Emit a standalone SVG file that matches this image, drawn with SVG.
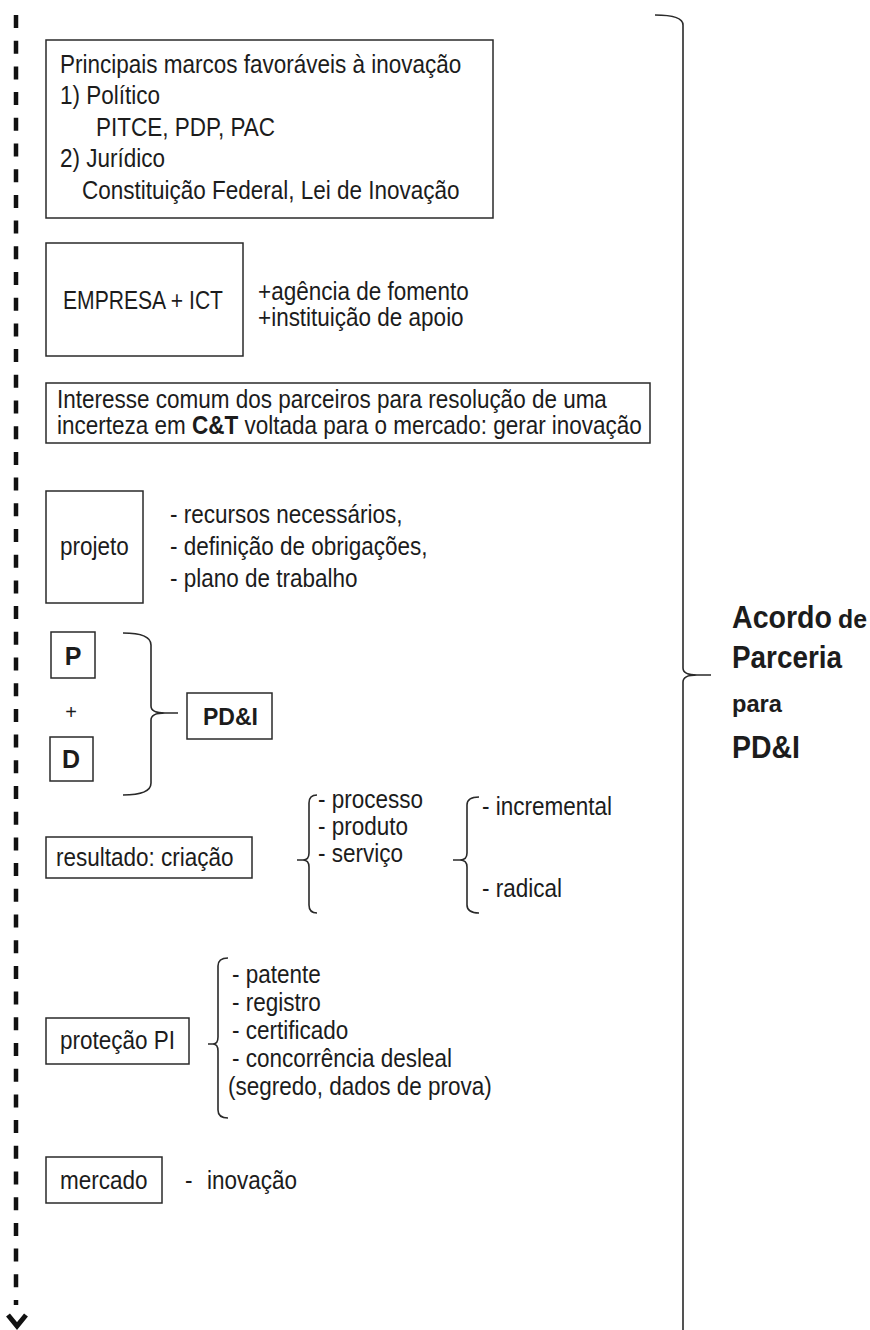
<svg xmlns="http://www.w3.org/2000/svg" width="870" height="1330" viewBox="0 0 870 1330">
<defs>
<style>
.t{font-family:"Liberation Sans",Arial,sans-serif;font-size:25px;fill:#1c1c1c}
.b{font-weight:bold}
.box{fill:none;stroke:#2a2a2a;stroke-width:1.5}
.br{fill:none;stroke:#2a2a2a;stroke-width:1.6}
</style>
</defs>
<rect width="870" height="1330" fill="#ffffff"/>

<g id="connectors">
  <line x1="16" y1="15" x2="16" y2="1305" stroke="#111" stroke-width="4.5" stroke-dasharray="13 12.7"/>
  <polyline points="8,1315 17,1326 26,1315" fill="none" stroke="#111" stroke-width="5"/>
  <path class="br" d="M655,15 Q683,15 683,25 V668 Q683,675 697,675 H711 M697,675 Q683,675 683,682 V1330"/>
  <path class="br" d="M123,633 Q151,633 151,645 V706 Q151,713 165,713 H178 M165,713 Q151,713 151,720 V783 Q151,795 123,795"/>
  <path class="br" d="M317,795 Q309,795 309,803 V853 Q309,860 303,860 H297 M303,860 Q309,860 309,867 V905 Q309,913 317,913"/>
  <path class="br" d="M479,797 Q467,797 467,805 V853 Q467,860 460,860 H453 M460,860 Q467,860 467,867 V905 Q467,913 479,913"/>
  <path class="br" d="M228,958 Q218,958 218,966 V1037 Q218,1044 213,1044 H208 M213,1044 Q218,1044 218,1051 V1110 Q218,1118 228,1118"/>
</g>

<g id="marcos">
  <rect class="box" x="46" y="40" width="447" height="178"/>
  <text class="t" transform="translate(60,73) scale(0.9,1)">Principais marcos favoráveis à inovação</text>
  <text class="t" transform="translate(60,104) scale(0.9,1)">1) Político</text>
  <text class="t" transform="translate(96,136) scale(0.9,1)">PITCE, PDP, PAC</text>
  <text class="t" transform="translate(60,167) scale(0.9,1)">2) Jurídico</text>
  <text class="t" transform="translate(82,199) scale(0.9,1)">Constituição Federal, Lei de Inovação</text>
</g>

<g id="empresa">
  <rect class="box" x="46" y="243" width="197" height="113"/>
  <text class="t" x="63" y="309" textLength="160" lengthAdjust="spacingAndGlyphs">EMPRESA + ICT</text>
  <text class="t" transform="translate(258,300) scale(0.9,1)">+agência de fomento</text>
  <text class="t" transform="translate(258,326) scale(0.9,1)">+instituição de apoio</text>
</g>

<g id="interesse">
  <rect class="box" x="46" y="383" width="604" height="60"/>
  <text class="t" transform="translate(57,408) scale(0.9,1)">Interesse comum dos parceiros para resolução de uma</text>
  <text class="t" transform="translate(57,434) scale(0.9,1)">incerteza em <tspan class="b">C&amp;T</tspan> voltada para o mercado: gerar inovação</text>
</g>

<g id="projeto">
  <rect class="box" x="46" y="491" width="97" height="112"/>
  <text class="t" transform="translate(60,555) scale(0.9,1)">projeto</text>
  <text class="t" transform="translate(170,523) scale(0.9,1)">- recursos necessários,</text>
  <text class="t" transform="translate(170,555) scale(0.9,1)">- definição de obrigações,</text>
  <text class="t" transform="translate(170,587) scale(0.9,1)">- plano de trabalho</text>
</g>

<g id="p">
  <rect class="box" x="51" y="632" width="44" height="46"/>
  <text class="t b" x="73" y="665" text-anchor="middle">P</text>
</g>
<g id="plus">
  <text class="t" x="71" y="719" text-anchor="middle" style="font-size:20px">+</text>
</g>
<g id="d">
  <rect class="box" x="50" y="737" width="43" height="44"/>
  <text class="t b" x="71" y="768" text-anchor="middle">D</text>
</g>
<g id="pdi">
  <rect class="box" x="187" y="693" width="85" height="46"/>
  <text class="t b" x="203" y="725" textLength="55" lengthAdjust="spacingAndGlyphs" style="font-size:23px">PD&amp;I</text>
</g>

<g id="resultado">
  <rect class="box" x="46" y="837" width="206" height="41"/>
  <text class="t" transform="translate(56,866) scale(0.9,1)">resultado: criação</text>
</g>
<g id="tipos">
  <text class="t" transform="translate(318,808) scale(0.9,1)">- processo</text>
  <text class="t" transform="translate(318,835) scale(0.9,1)">- produto</text>
  <text class="t" transform="translate(318,862) scale(0.9,1)">- serviço</text>
</g>
<g id="graus">
  <text class="t" transform="translate(482,815) scale(0.9,1)">- incremental</text>
  <text class="t" transform="translate(482,897) scale(0.9,1)">- radical</text>
</g>

<g id="protecao">
  <rect class="box" x="46" y="1018" width="143" height="46"/>
  <text class="t" transform="translate(60,1049) scale(0.9,1)">proteção PI</text>
</g>
<g id="formas">
  <text class="t" transform="translate(232,983) scale(0.9,1)">- patente</text>
  <text class="t" transform="translate(232,1011) scale(0.9,1)">- registro</text>
  <text class="t" transform="translate(232,1039) scale(0.9,1)">- certificado</text>
  <text class="t" transform="translate(232,1067) scale(0.9,1)">- concorrência desleal</text>
  <text class="t" transform="translate(228,1095) scale(0.9,1)">(segredo, dados de prova)</text>
</g>

<g id="mercado">
  <rect class="box" x="46" y="1157" width="116" height="46"/>
  <text class="t" transform="translate(60,1189) scale(0.9,1)">mercado</text>
  <text class="t" transform="translate(185,1189) scale(0.9,1)">-<tspan x="24.4">inovação</tspan></text>
</g>

<g id="acordo">
  <text class="t b" x="732" y="628" textLength="100" lengthAdjust="spacingAndGlyphs" style="font-size:31px">Acordo</text>
  <text class="t b" x="838" y="628" textLength="29" lengthAdjust="spacingAndGlyphs" style="font-size:25px">de</text>
  <text class="t b" x="732" y="668" textLength="110" lengthAdjust="spacingAndGlyphs" style="font-size:31px">Parceria</text>
  <text class="t b" x="732" y="712" textLength="50" lengthAdjust="spacingAndGlyphs" style="font-size:24px">para</text>
  <text class="t b" x="732" y="758" textLength="68" lengthAdjust="spacingAndGlyphs" style="font-size:31px">PD&amp;I</text>
</g>
</svg>
